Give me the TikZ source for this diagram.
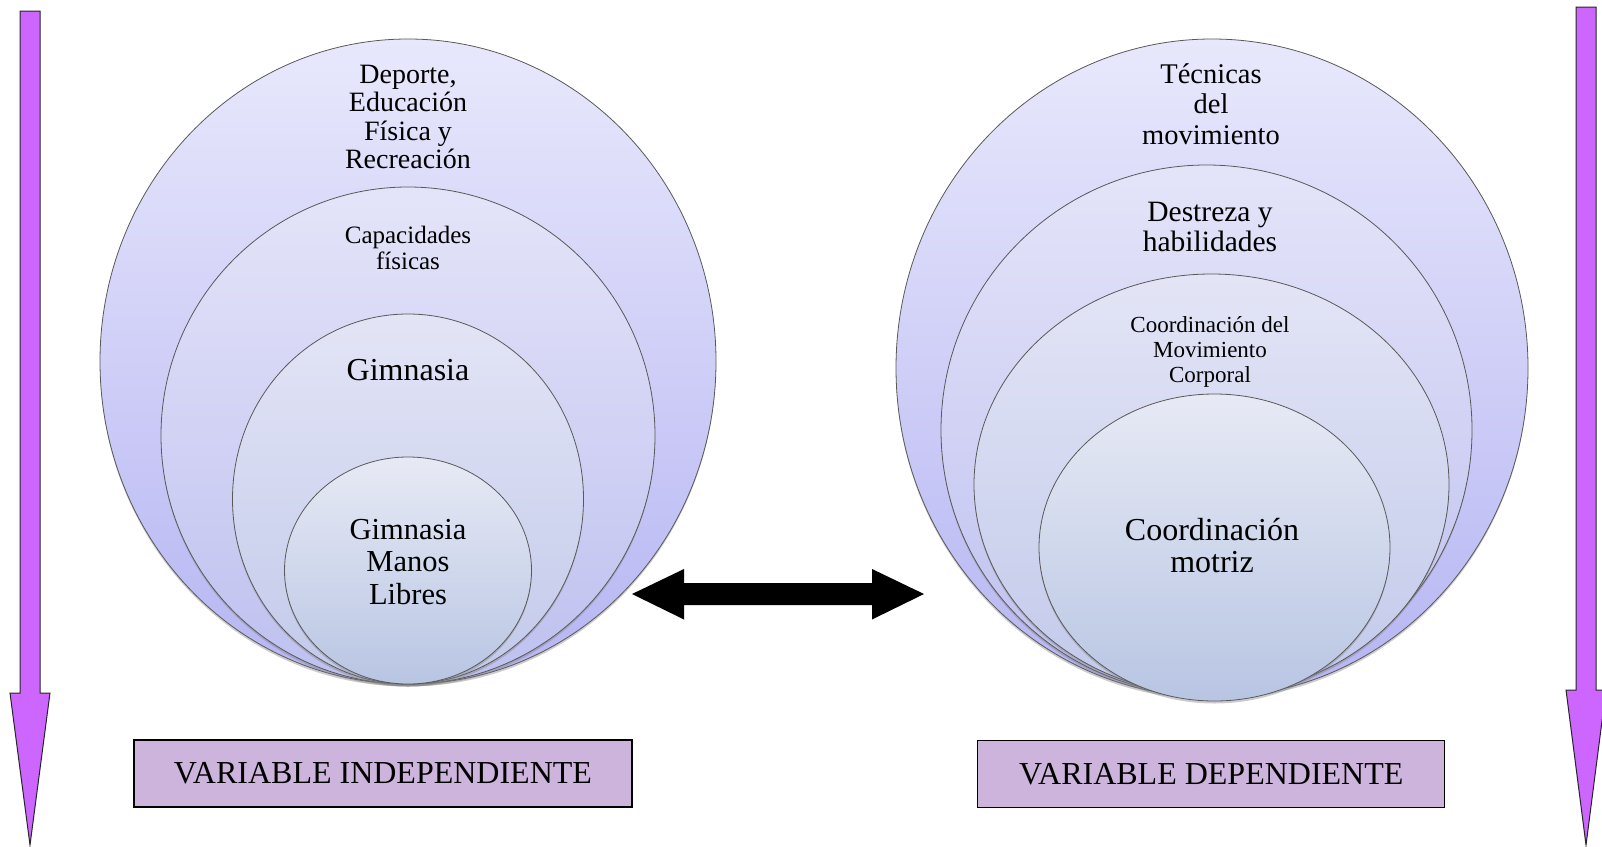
\documentclass[tikz,border=0pt]{standalone}
\usepackage{fontspec}
\setmainfont{Liberation Serif}
\usetikzlibrary{shapes.geometric,shadows}
\definecolor{boxlilac}{HTML}{CDB4DC}
\definecolor{arrowviolet}{HTML}{CC66FF}
\definecolor{ringA}{HTML}{E8E8FC}
\definecolor{ringAb}{HTML}{B6B5F3}
\definecolor{ringB}{HTML}{E4E4F9}
\definecolor{ringBb}{HTML}{BEC0EF}
\definecolor{ringC}{HTML}{E3E5F6}
\definecolor{ringCb}{HTML}{C2C9EA}
\definecolor{ringD}{HTML}{E7EAF5}
\definecolor{ringDb}{HTML}{B8C5E3}
\begin{document}
\begin{tikzpicture}[x=1pt,y=-1pt,
  ring/.style={ellipse, draw=black!65, line width=0.8pt, inner sep=0pt,
    drop shadow={opacity=0.4, shadow xshift=0pt, shadow yshift=-2.5pt}},
  lvA/.style={ring, top color=ringA, bottom color=ringAb},
  lvB/.style={ring, top color=ringB, bottom color=ringBb},
  lvC/.style={ring, top color=ringC, bottom color=ringCb},
  lvD/.style={ring, top color=ringD, bottom color=ringDb},
  lbl/.style={align=center, inner sep=0pt, text=black},
  varbox/.style={draw=black, line width=1.3pt, fill=boxlilac, inner sep=0pt,
    font=\fontsize{32}{34}\selectfont},
  vbar/.style={fill=arrowviolet, draw=black!85, line width=1pt, line join=miter},
  dbl/.style={fill=black, draw=none}
]
\useasboundingbox (0,0) rectangle (1602,846);

% vertical arrows
\coordinate (va) at (30,11);
\draw[vbar] (va) ++(-10,0) -- ++(20,0) -- ++(0,682) -- ++(10,0) -- (30,845) -- ++(-20,-152) -- ++(10,0) -- cycle;
\coordinate (vb) at (1586,7);
\draw[vbar] (vb) ++(-10,0) -- ++(20,0) -- ++(0,683) -- ++(10,0) -- (1586,845) -- ++(-20,-155) -- ++(10,0) -- cycle;

% left group
\node[lvA, minimum width=616, minimum height=645] (L1) at (408,361.5) {};
\node[lvB, minimum width=494, minimum height=497] (L2) at (408,435.5) {};
\node[lvC, minimum width=351, minimum height=370] (L3) at (408,499) {};
\node[lvD, minimum width=247, minimum height=227] (L4) at (408,570.5) {};
\node[lbl, font=\fontsize{28}{28.6}\selectfont] (tL1) at (408,117) {Deporte,\\Educación\\Física y\\Recreación};
\node[lbl, font=\fontsize{25}{26}\selectfont] (tL2) at (408,248) {Capacidades\\físicas};
\node[lbl, font=\fontsize{32}{33}\selectfont] (tL3) at (408,370) {Gimnasia};
\node[lbl, font=\fontsize{30.5}{32.7}\selectfont] (tL4) at (408,562) {Gimnasia\\Manos\\Libres};

% right group
\node[lvA, minimum width=632, minimum height=658] (R1) at (1212,368) {};
\node[lvB, minimum width=531, minimum height=530] (R2) at (1206.5,430) {};
\node[lvC, minimum width=475, minimum height=421] (R3) at (1211.5,484.5) {};
\node[lvD, minimum width=351, minimum height=307] (R4) at (1214.5,547.5) {};
\node[lbl, font=\fontsize{28.5}{30.6}\selectfont] (tR1) at (1211,104) {Técnicas\\del\\movimiento};
\node[lbl, font=\fontsize{29.5}{30}\selectfont] (tR2) at (1210,227) {Destreza y\\habilidades};
\node[lbl, font=\fontsize{23}{25}\selectfont] (tR3) at (1210,351.5) {Coordinación del\\Movimiento\\Corporal};
\node[lbl, font=\fontsize{32}{32}\selectfont] (tR4) at (1212,546) {Coordinación\\motriz};

% double arrow
\coordinate (dl) at (632,594);
\coordinate (dr) at (924,594);
\path[dbl] (dl) -- ++(52,-25) -- ++(0,14) -- ++(188,0) -- ++(0,-14) -- (dr) -- ++(-52,25.5) -- ++(0,-14.5) -- ++(-188,0) -- ++(0,14.5) -- cycle;

% boxes
\node[varbox, minimum width=498, minimum height=67] (bL) at (383,773.5) {VARIABLE INDEPENDIENTE};
\node[varbox, minimum width=467, minimum height=66.5] (bR) at (1211.3,774) {VARIABLE DEPENDIENTE};
\end{tikzpicture}
\end{document}
